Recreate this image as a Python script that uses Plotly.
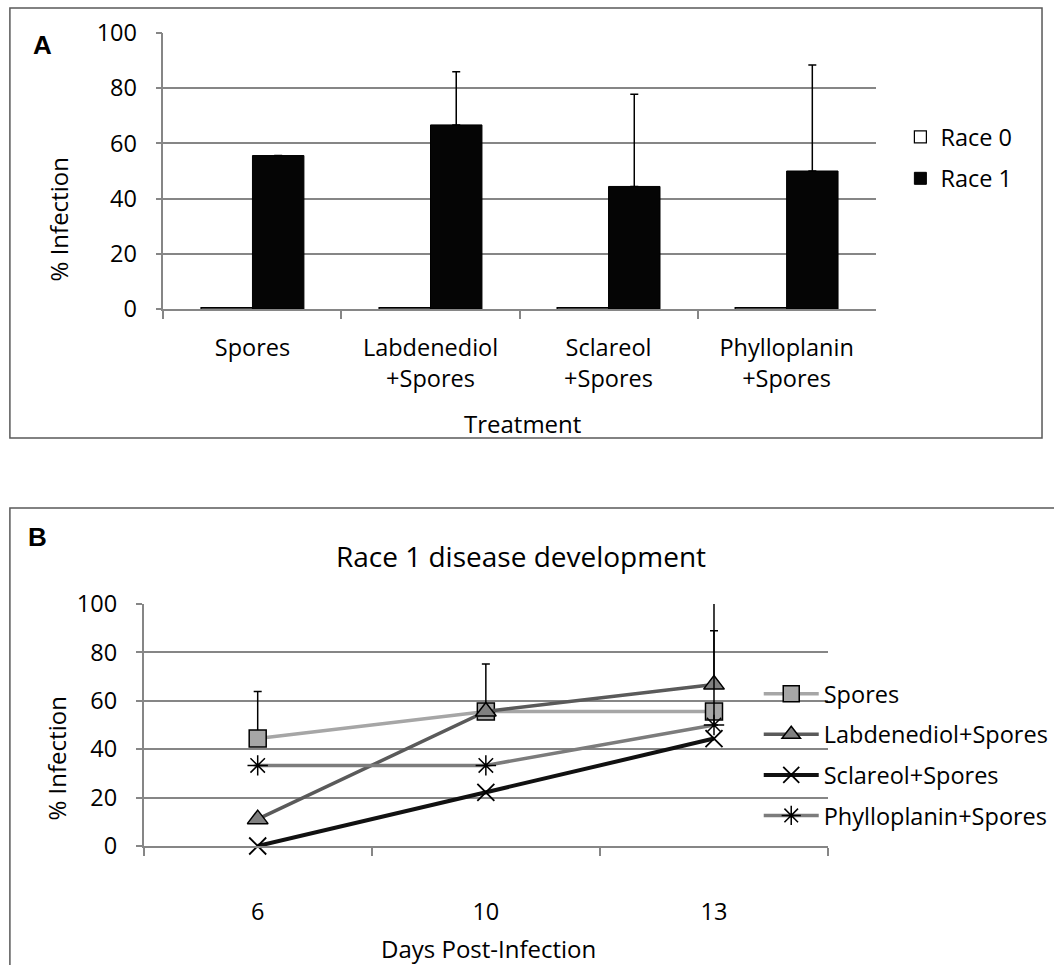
import plotly.graph_objects as go

W, H = 1054, 965

# ---------------- data ----------------
treatments = ["Spores", "Labdenediol<br>+Spores", "Sclareol<br>+Spores", "Phylloplanin<br>+Spores"]
race0_values = [0.5, 0.5, 0.5, 0.5]
race1_values = [55.6, 66.7, 44.4, 50.0]
race1_errors = [0.0, 19.3, 33.4, 38.4]

days = ["6", "10", "13"]
spores_values = [44.4, 55.6, 55.6]
spores_errors = [19.4, 19.6, 0.0]
labdenediol_values = [11.1, 55.6, 66.7]
labdenediol_errors = [0.0, 0.0, 40.0]
sclareol_values = [0.0, 22.2, 44.4]
phylloplanin_values = [33.3, 33.3, 50.0]
phylloplanin_errors = [0.0, 0.0, 38.9]

y_ticks = [0, 20, 40, 60, 80, 100]

FONT = "Open Sans"
AXIS = "#868686"
TS = 23.5


def px(x):
    return x / W


def py(y):
    return 1 - y / H


fig = go.Figure()

# ---------------- panel A ----------------
fig.add_trace(go.Bar(
    x=treatments, y=race0_values, name="Race 0",
    marker=dict(color="white", line=dict(color="black", width=1.2)),
    xaxis="x", yaxis="y", legend="legend", legendgroup="r0",
))
fig.add_trace(go.Bar(
    x=treatments, y=race1_values, name="Race 1",
    marker=dict(color="#050505", line=dict(color="black", width=1)),
    error_y=dict(type="data", array=race1_errors, symmetric=False,
                 arrayminus=[0] * len(race1_errors),
                 color="black", thickness=1.5, width=4),
    xaxis="x", yaxis="y", legend="legend", legendgroup="r1",
))

# ---------------- panel B ----------------
fig.add_trace(go.Scatter(
    x=days, y=spores_values, name="Spores", mode="lines+markers",
    line=dict(color="#a6a6a6", width=3.5),
    marker=dict(symbol="square", size=17, color="#a6a6a6", line=dict(color="black", width=1.5)),
    error_y=dict(type="data", array=spores_errors, symmetric=False,
                 arrayminus=[0] * 3, color="black", thickness=1.5, width=4),
    xaxis="x2", yaxis="y2", legend="legend2", legendgroup="s",
))
fig.add_trace(go.Scatter(
    x=days, y=labdenediol_values, name="Labdenediol+Spores", mode="lines+markers",
    line=dict(color="#5a5a5a", width=3.5),
    marker=dict(symbol="triangle-up", size=18, color="#808080", line=dict(color="black", width=1.5)),
    error_y=dict(type="data", array=labdenediol_errors, symmetric=False,
                 arrayminus=[0] * 3, color="black", thickness=1.5, width=4),
    xaxis="x2", yaxis="y2", legend="legend2", legendgroup="l",
))
fig.add_trace(go.Scatter(
    x=days, y=sclareol_values, name="Sclareol+Spores", mode="lines+markers",
    line=dict(color="#111111", width=4),
    marker=dict(symbol="x-thin", size=17, color="black", line=dict(color="black", width=1.8)),
    cliponaxis=False,
    xaxis="x2", yaxis="y2", legend="legend2", legendgroup="c",
))
fig.add_trace(go.Scatter(
    x=days, y=phylloplanin_values, name="Phylloplanin+Spores", mode="lines+markers",
    line=dict(color="#7c7c7c", width=3.5),
    marker=dict(symbol="asterisk", size=17, color="black", line=dict(color="black", width=1.5)),
    error_y=dict(type="data", array=phylloplanin_errors, symmetric=False,
                 arrayminus=[0] * 3, color="black", thickness=1.5, width=4),
    xaxis="x2", yaxis="y2", legend="legend2", legendgroup="p",
))

xcommon = dict(type="category", showline=True, linecolor=AXIS, linewidth=1.5,
               ticks="outside", tickson="boundaries", ticklen=8, tickcolor=AXIS, tickwidth=1.5,
               showgrid=False, zeroline=False, tickfont=dict(family=FONT, size=TS, color="black"))
ycommon = dict(range=[0, 100], tickvals=y_ticks, showline=True, linecolor=AXIS, linewidth=1.5,
               ticks="outside", ticklen=6, tickcolor=AXIS, tickwidth=1.5,
               showgrid=True, gridcolor=AXIS, gridwidth=1.5, zeroline=False,
               ticklabelstandoff=14,
               tickfont=dict(family=FONT, size=TS, color="black"))

fig.update_layout(
    width=W, height=H, margin=dict(l=0, r=0, t=0, b=0),
    template="none", paper_bgcolor="white", plot_bgcolor="white",
    font=dict(family=FONT, size=TS, color="black"),
    barmode="group", bargap=0.422, bargroupgap=0,
    xaxis=dict(domain=[px(165), px(884)], anchor="y", ticklabelstandoff=17, **xcommon),
    yaxis=dict(domain=[py(309), py(33)], anchor="x", **ycommon),
    xaxis2=dict(domain=[px(145), px(836)], anchor="y2", range=[-0.5, 2.5],
                ticklabelstandoff=44, **xcommon),
    yaxis2=dict(domain=[py(846), py(604)], anchor="x2", **ycommon),
    legend=dict(x=px(909), y=py(115), xanchor="left", yanchor="top",
                bgcolor="rgba(0,0,0,0)", traceorder="grouped", tracegroupgap=8,
                font=dict(family=FONT, size=TS, color="black")),
    legend2=dict(x=px(766), y=py(672), xanchor="left", yanchor="top",
                 bgcolor="rgba(0,0,0,0)", traceorder="grouped", tracegroupgap=7,
                 itemwidth=55,
                 font=dict(family=FONT, size=TS, color="black")),
    title=dict(text="Race 1 disease development", x=px(526), y=py(557),
               xanchor="center", yanchor="middle", xref="paper", yref="paper",
               font=dict(family=FONT, size=28, color="black")),
    showlegend=True,
)

# panel borders
fig.add_shape(type="rect", xref="paper", yref="paper",
              x0=px(10), x1=px(1052), y0=py(438), y1=py(8),
              line=dict(color="#595959", width=1.5), layer="below")
fig.add_shape(type="rect", xref="paper", yref="paper",
              x0=px(10), x1=px(1070), y0=py(990), y1=py(508),
              line=dict(color="#595959", width=1.5), layer="below")

ann = [
    dict(text="<b>A</b>", x=px(43), y=py(45), font=dict(family="Liberation Sans", size=26)),
    dict(text="<b>B</b>", x=px(38), y=py(537), font=dict(family="Liberation Sans", size=26)),
    dict(text="Treatment", x=px(527), y=py(423), font=dict(family=FONT, size=24)),
    dict(text="Days Post-Infection", x=px(493), y=py(948), font=dict(family=FONT, size=24)),
    dict(text="% Infection", x=px(60), y=py(219), textangle=-90, font=dict(family=FONT, size=24)),
    dict(text="% Infection", x=px(57), y=py(758), textangle=-90, font=dict(family=FONT, size=24)),
]
for a in ann:
    fig.add_annotation(xref="paper", yref="paper", showarrow=False,
                       xanchor="center", yanchor="middle", **a)

fig.write_html("out.html")
